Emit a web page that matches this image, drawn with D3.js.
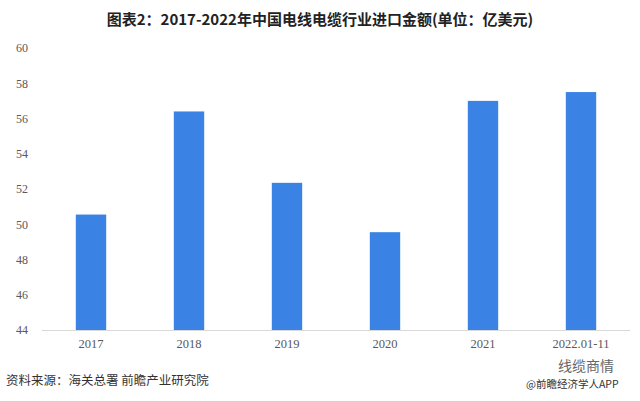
<!DOCTYPE html>
<html><head><meta charset="utf-8">
<script src="https://cdn.jsdelivr.net/npm/d3@7"></script>
<style>body{margin:0;background:#fff}svg{display:block}</style>
</head><body>
<svg id="c" width="640" height="401"></svg>
<script>
const categories = ["2017","2018","2019","2020","2021","2022.01-11"];
const values = [50.55, 56.4, 52.35, 49.55, 57.0, 57.5];
const yTicks = [44,46,48,50,52,54,56,58,60];

const svg = d3.select("#c");
const serif = "'Liberation Serif','DejaVu Serif',serif";
const sans = "'Noto Sans CJK SC','Noto Sans',sans-serif";

const x = d3.scaleBand().domain(categories).range([42,630]).paddingInner(0.69).paddingOuter(0.345);
const y = d3.scaleLinear().domain([44,60]).range([330,48]);

svg.append("text").attr("x",320).attr("y",25).attr("text-anchor","middle")
  .attr("font-family",sans).attr("font-weight","bold").attr("font-size",15).attr("fill","#222")
  .text("图表2：2017-2022年中国电线电缆行业进口金额(单位：亿美元)");

svg.selectAll("rect.bar").data(values).join("rect").attr("class","bar")
  .attr("x",(d,i)=>x(categories[i])).attr("width",x.bandwidth())
  .attr("y",d=>y(d)).attr("height",d=>y(44)-y(d)).attr("fill","#3a82e3");

const ya = svg.append("g").attr("transform","translate(28,0)")
  .call(d3.axisLeft(y).tickValues(yTicks).tickSize(0).tickPadding(0));
ya.select(".domain").remove();
ya.selectAll("text").attr("font-family",serif).attr("font-size",12).attr("fill","#595959");

const xa = svg.append("g").attr("transform","translate(0,330)")
  .call(d3.axisBottom(x).tickSize(0).tickPadding(9));
xa.select(".domain").attr("stroke","#d9d9d9").attr("d","M42,0.5H630");
xa.selectAll("text").attr("font-family",serif).attr("font-size",12.5).attr("fill","#595959");

svg.append("text").attr("x",6).attr("y",385).attr("font-family",sans).attr("font-size",12.5).attr("fill","#333")
  .text("资料来源：海关总署 前瞻产业研究院");
svg.append("text").attr("x",558).attr("y",371).attr("font-family",sans).attr("font-size",14).attr("fill","#666")
  .text("线缆商情");
svg.append("text").attr("x",526).attr("y",388).attr("font-family",sans).attr("font-size",10.5).attr("fill","#333")
  .text("@前瞻经济学人APP");
</script>
</body></html>
